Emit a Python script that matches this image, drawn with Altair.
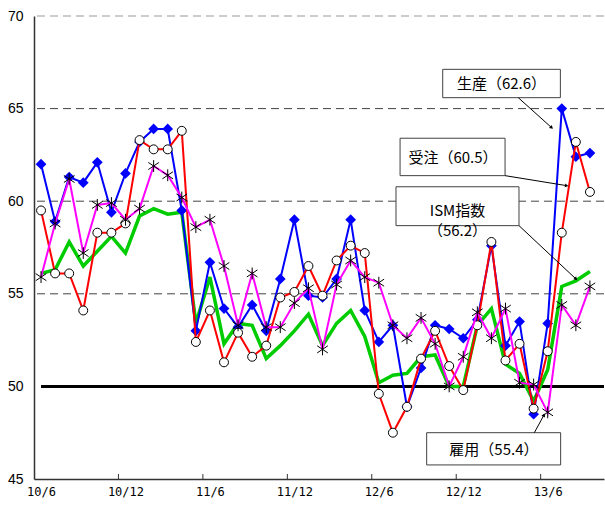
import math
import altair as alt
import pandas as pd

# ---- data (2010/6 .. 2013/9, monthly) ----
month_labels = [f"{10 + (5 + i) // 12}/{(5 + i) % 12 + 1}" for i in range(40)]

ism = [56.1, 56.3, 57.8, 56.5, 57.3, 58.1, 57.2, 59.2, 59.6, 59.3,
       59.4, 53.4, 55.9, 52.3, 53.4, 53.3, 51.5, 52.2, 53.0, 53.9,
       52.2, 53.4, 54.1, 52.7, 50.2, 50.6, 50.7, 51.6, 51.7, 50.0,
       50.0, 53.3, 54.2, 51.2, 50.7, 49.2, 50.9, 55.4, 55.7, 56.2]
production = [62.0, 58.9, 61.3, 61.0, 62.1, 59.4, 61.5, 63.2, 63.9, 63.9,
              59.5, 53.0, 56.7, 54.2, 53.2, 54.4, 53.0, 55.8, 59.0, 54.9,
              54.8, 55.8, 59.0, 54.1, 52.4, 53.3, 48.9, 51.0, 53.3, 53.1,
              52.6, 53.6, 57.6, 52.2, 53.5, 48.5, 53.4, 65.0, 62.4, 62.6]
new_orders = [59.5, 56.1, 56.1, 54.1, 58.3, 58.3, 58.8, 63.3, 62.8, 62.8,
              63.8, 52.4, 54.1, 51.3, 52.9, 51.6, 52.2, 54.8, 55.1, 56.5,
              54.9, 56.8, 57.6, 57.2, 49.6, 47.5, 48.9, 51.5, 53.0, 51.1,
              49.8, 53.3, 57.8, 51.4, 52.3, 48.8, 51.9, 58.3, 63.2, 60.5]
employment = [55.9, 58.8, 61.2, 57.2, 59.8, 59.9, 59.0, 59.6, 61.9, 61.4,
              60.2, 58.6, 59.0, 56.5, 53.3, 56.1, 53.2, 53.2, 54.5, 55.3,
              52.0, 55.5, 56.8, 55.9, 55.6, 53.3, 52.6, 53.7, 52.3, 50.0,
              51.6, 54.0, 52.6, 54.2, 50.2, 50.1, 48.6, 54.4, 53.3, 55.4]

tick_labels = ["10/6", "10/12", "11/6", "11/12", "12/6", "12/12", "13/6"]
y_ticks = [45, 50, 55, 60, 65, 70]
grid_levels = [55, 60, 65]
top_level = [70]
base_level = [50]

# annotations (in data units: month index / index value)
ann_text = ["生産（62.6）", "受注（60.5）", "ISM指数\n（56.2）", "雇用（55.4）"]
box_x1 = [28.54, 25.51, 25.22, 27.40]
box_x2 = [36.90, 32.97, 33.96, 36.92]
box_y1 = [67.12, 63.40, 60.78, 47.50]
box_y2 = [65.59, 61.38, 58.68, 45.76]
txt_x = [32.72, 29.27, 29.59, 32.18]
txt_y = [66.33, 62.33, 59.45, 46.54]
arr_x1 = [33.91, 32.97, 33.96, 35.05]
arr_y1 = [65.59, 61.38, 58.68, 47.50]
arr_x2 = [36.28, 37.35, 38.01, 35.74]
arr_y2 = [63.97, 60.84, 55.80, 48.46]

# ---- layout ----
X_DOMAIN = [-0.5, 40.0]
Y_DOMAIN = [45, 70]
W, H = 570, 463
PX_X = W / (X_DOMAIN[1] - X_DOMAIN[0])
PX_Y = H / (Y_DOMAIN[1] - Y_DOMAIN[0])

rows = []
for name, vals in [("ISM", ism), ("生産", production), ("受注", new_orders), ("雇用", employment)]:
    for i, v in enumerate(vals):
        rows.append({"idx": i, "month": month_labels[i], "series": name, "value": v})
df = pd.DataFrame(rows)

angles = []
for a, b, c, d in zip(arr_x1, arr_y1, arr_x2, arr_y2):
    dx = (c - a) * PX_X
    dy = -(d - b) * PX_Y
    angles.append(math.degrees(math.atan2(dx, -dy)) % 360)

ann_df = pd.DataFrame({
    "text": ann_text, "bx1": box_x1, "bx2": box_x2, "by1": box_y1, "by2": box_y2,
    "tx": txt_x, "ty": txt_y, "ax1": arr_x1, "ay1": arr_y1, "ax2": arr_x2, "ay2": arr_y2,
    "ang": angles,
})

xs = alt.Scale(domain=X_DOMAIN, nice=False, zero=False)
ys = alt.Scale(domain=Y_DOMAIN, nice=False, zero=False)

x_axis = alt.Axis(
    values=[-0.5 + 6 * k for k in range(len(tick_labels))],
    labelExpr=f"{tick_labels}[round((datum.value + 0.5) / 6)]",
    labelOffset=7, ticks=False, grid=False, labelFlush=False, labelOverlap=False,
    domainColor="#333333", domainWidth=1.5, labelFont="DejaVu Sans Mono",
    labelFontSize=12, labelColor="black", labelPadding=7, title=None,
)
y_axis = alt.Axis(
    values=y_ticks, ticks=False, grid=False, domainColor="#333333", domainWidth=1.5,
    labelFont="Liberation Sans", labelFontSize=14, labelColor="black",
    labelPadding=11, title=None, labelFlush=False, labelOverlap=False,
)

def X(field):
    return alt.X(field, scale=xs, axis=x_axis, title=None)

def Y(field):
    return alt.Y(field, scale=ys, axis=y_axis, title=None)

grid = alt.Chart(pd.DataFrame({"y": grid_levels})).mark_rule(
    color="#444444", strokeWidth=1, strokeDash=[8, 5]
).encode(y=Y("y:Q"))
top = alt.Chart(pd.DataFrame({"y": top_level})).mark_rule(
    color="#999999", strokeWidth=1.2, strokeDash=[8, 5]
).encode(y=Y("y:Q"))
base = alt.Chart(pd.DataFrame({"y": base_level, "x1": [0], "x2": [X_DOMAIN[1]]})).mark_rule(
    color="black", strokeWidth=3
).encode(y=Y("y:Q"), x=X("x1:Q"), x2="x2:Q")

xticks = alt.Chart(pd.DataFrame({"x": [5.5 + 6 * k for k in range(6)]})).mark_rule(
    color="#333333", strokeWidth=1
).encode(x=X("x:Q"), y=alt.value(H), y2=alt.value(H - 5))

def series(name):
    return alt.Chart(df).transform_filter(alt.datum.series == name)

green_line = series("ISM").mark_line(color="#00CC00", strokeWidth=3.5).encode(
    x=X("idx:Q"), y=Y("value:Q"))
blue_line = series("生産").mark_line(color="#0000FF", strokeWidth=2).encode(
    x=X("idx:Q"), y=Y("value:Q"))
blue_pts = series("生産").mark_point(shape="diamond", filled=True, color="#0000FF",
                                      size=115, opacity=1).encode(x=X("idx:Q"), y=Y("value:Q"))
red_line = series("受注").mark_line(color="#FF0000", strokeWidth=2).encode(
    x=X("idx:Q"), y=Y("value:Q"))
red_pts = series("受注").mark_point(shape="circle", filled=True, fill="white", stroke="black",
                                     strokeWidth=1, size=80, opacity=1).encode(
    x=X("idx:Q"), y=Y("value:Q"))
mag_line = series("雇用").mark_line(color="#FF00FF", strokeWidth=2).encode(
    x=X("idx:Q"), y=Y("value:Q"))
star_path = "M0,-1L0,1M-0.9,-0.6L0.9,0.6M-0.9,0.6L0.9,-0.6"
mag_pts = series("雇用").mark_point(shape=star_path, filled=False, stroke="black",
                                     strokeWidth=1, size=140, opacity=1).encode(
    x=X("idx:Q"), y=Y("value:Q"))

ann = alt.Chart(ann_df)
boxes = ann.mark_rect(fill="white", stroke="#404040", strokeWidth=1).encode(
    x=X("bx1:Q"), x2="bx2:Q", y=Y("by1:Q"), y2="by2:Q")
texts = ann.mark_text(font="Noto Sans CJK JP", fontSize=15, color="black",
                      lineBreak="\n", lineHeight=20, align="center", baseline="middle").encode(
    x=X("tx:Q"), y=Y("ty:Q"), text="text:N")
arrows = ann.mark_rule(color="black", strokeWidth=1).encode(
    x=X("ax1:Q"), x2="ax2:Q", y=Y("ay1:Q"), y2="ay2:Q")
heads = ann.mark_point(shape="triangle-up", filled=True, color="black", size=16, opacity=1).encode(
    x=X("ax2:Q"), y=Y("ay2:Q"), angle=alt.Angle("ang:Q", scale=None))

chart = alt.layer(
    top, grid, base, xticks,
    green_line, blue_line, blue_pts, red_line, red_pts, mag_line, mag_pts,
    boxes, texts, arrows, heads,
).properties(
    width=W, height=H,
    autosize=alt.AutoSizeParams(type="none"),
    padding={"left": 34, "top": 16, "right": 1, "bottom": 27},
    background="white",
).configure_view(stroke=None)

chart.save("out.html", embed_options={"renderer": "svg", "actions": False})
